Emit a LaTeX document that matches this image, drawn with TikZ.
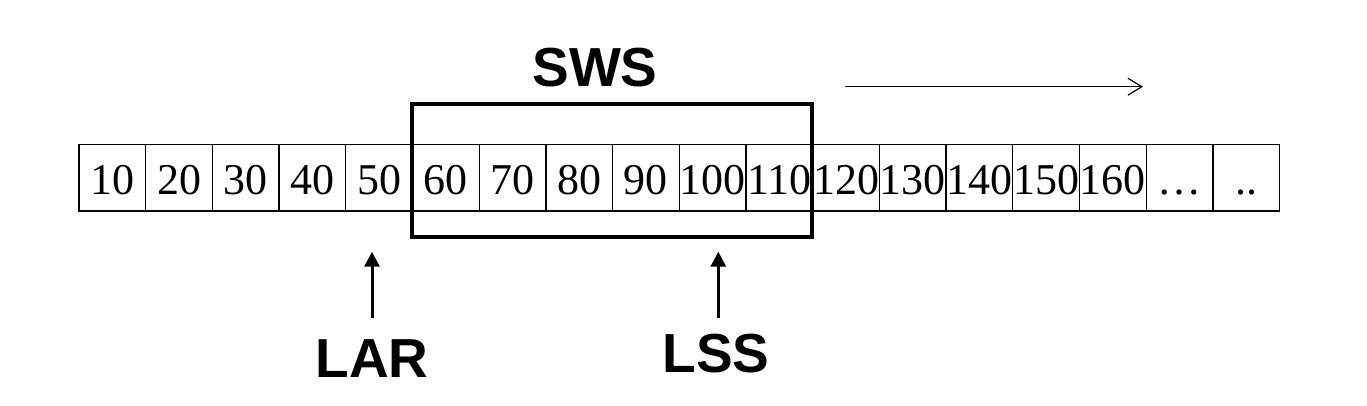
\documentclass[tikz,border=0pt]{standalone}
\usepackage{fontspec}
\setmainfont{Liberation Serif}
\newfontfamily\labelfont{Liberation Sans}
\usetikzlibrary{arrows.meta}
\begin{document}
\begin{tikzpicture}[x=1pt,y=-1pt,
  cell/.style={draw, line width=1.3pt, minimum width=66.7pt, minimum height=66.7pt,
    inner sep=0pt, text height=49.65pt, text depth=17.05pt, font=\fontsize{44}{44}\selectfont},
  bigbox/.style={draw, line width=4pt, minimum width=400.6pt, minimum height=132.4pt, inner sep=0pt},
  biglabel/.style={anchor=base, inner sep=0pt, font=\labelfont\bfseries\fontsize{55}{55}\selectfont},
  ptr/.style={line width=3pt, -{Triangle[width=15pt,length=15pt]}},
  dir/.style={line width=1.2pt, -{Straight Barb[length=14pt,width=17pt,line width=1.2pt]}}]
\useasboundingbox (0,0) rectangle (1367,406);
\foreach \t [count=\i from 0] in {10,20,30,40,50,60,70,80,90,100,110,120,130,140,150,160,…,..}
  \node[cell] (c\i) at ({79+66.7*\i+33.35},177.7) {\t};
\node[bigbox] (sws) at (612,170.5) {};
\node[biglabel] (swsl) at (595,86.7) {SWS};
\coordinate (ds) at (845,86.7);
\coordinate (de) at (1143,86.7);
\draw[dir] (ds) -- (de);
\node[biglabel] (lar) at (372,377) {LAR};
\node[biglabel] (lss) at (716,372) {LSS};
\coordinate (lars) at (372,318);
\coordinate (lart) at (372,251.7);
\coordinate (lsss) at (718.3,318);
\coordinate (lsst) at (718.3,251.7);
\draw[ptr] (lars) -- (lart);
\draw[ptr] (lsss) -- (lsst);
\end{tikzpicture}
\end{document}
